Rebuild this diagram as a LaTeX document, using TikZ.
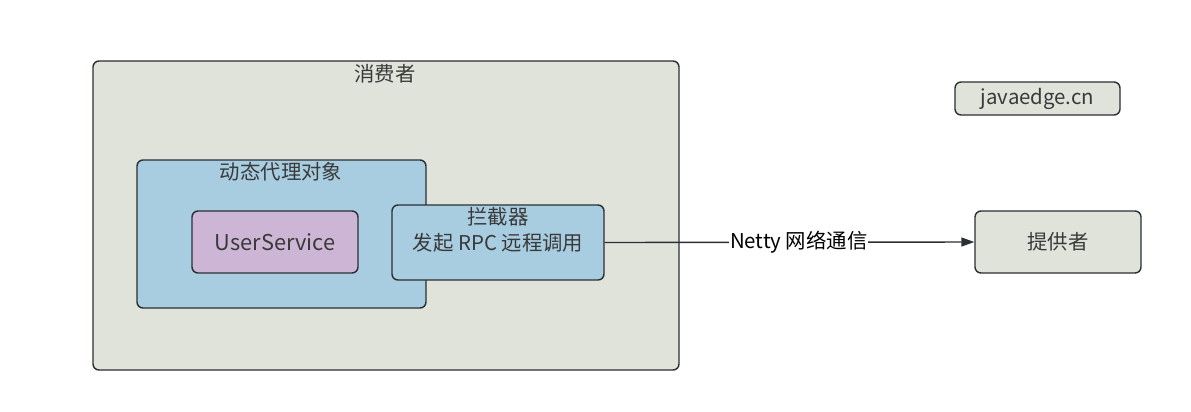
\documentclass[tikz,border=0pt]{standalone}
\usepackage{fontspec}
\setmainfont{Noto Sans CJK SC}
\usepackage{xcolor}
\usepackage{tikz}
\usetikzlibrary{arrows.meta,positioning}
\definecolor{figgrey}{HTML}{DFE3DA}
\definecolor{figblue}{HTML}{A8CDE0}
\definecolor{figlilac}{HTML}{CDB6D5}
\definecolor{figink}{HTML}{2B2F33}
\definecolor{figtext}{HTML}{3A3A3A}

\begin{document}
\begin{tikzpicture}[font=\fontsize{11.6}{14.8}\selectfont,
  box/.style={draw=figink, line width=0.8pt, rounded corners=1.2mm, inner sep=0pt,
              text=figtext, align=center},
  greybox/.style={box, fill=figgrey},
  bluebox/.style={box, fill=figblue},
  lilacbox/.style={box, fill=figlilac},
  ttl/.style={text=figtext, inner sep=1pt, align=center}]
\useasboundingbox (0,0) rectangle (23.82,-8.22);
\node[greybox, minimum width=11.72cm, minimum height=6.18cm] (cons) at (7.72,-4.31) {};
\node[ttl] (consttl) at (7.70,-1.48) {消费者};
\node[bluebox, minimum width=5.78cm, minimum height=2.96cm] (proxy) at (5.63,-4.68) {};
\node[ttl] (proxyttl) at (5.62,-3.44) {动态代理对象};
\node[lilacbox, minimum width=3.32cm, minimum height=1.24cm,
      font=\fontsize{12.4}{14}\selectfont] (usvc) at (5.5,-4.84) {UserService};
\node[bluebox, minimum width=4.24cm, minimum height=1.5cm] (icpt) at (9.96,-4.85) {};
\node[ttl] (icptttl) at (9.96,-4.60) {拦截器\\发起 RPC 远程调用};
\node[greybox, minimum width=3.32cm, minimum height=1.24cm] (prov) at (21.16,-4.84) {提供者};
\node[greybox, minimum width=3.3cm, minimum height=0.66cm] (site) at (20.75,-1.97) {javaedge.cn};
\draw[-{Triangle[length=2.6mm, width=1.8mm]}, figink, line width=0.8pt]
  (icpt.east) -- node[pos=0.525, fill=white, text=black, inner sep=0.5pt] (netlbl) {Netty 网络通信} (prov.west);
\end{tikzpicture}
\end{document}
